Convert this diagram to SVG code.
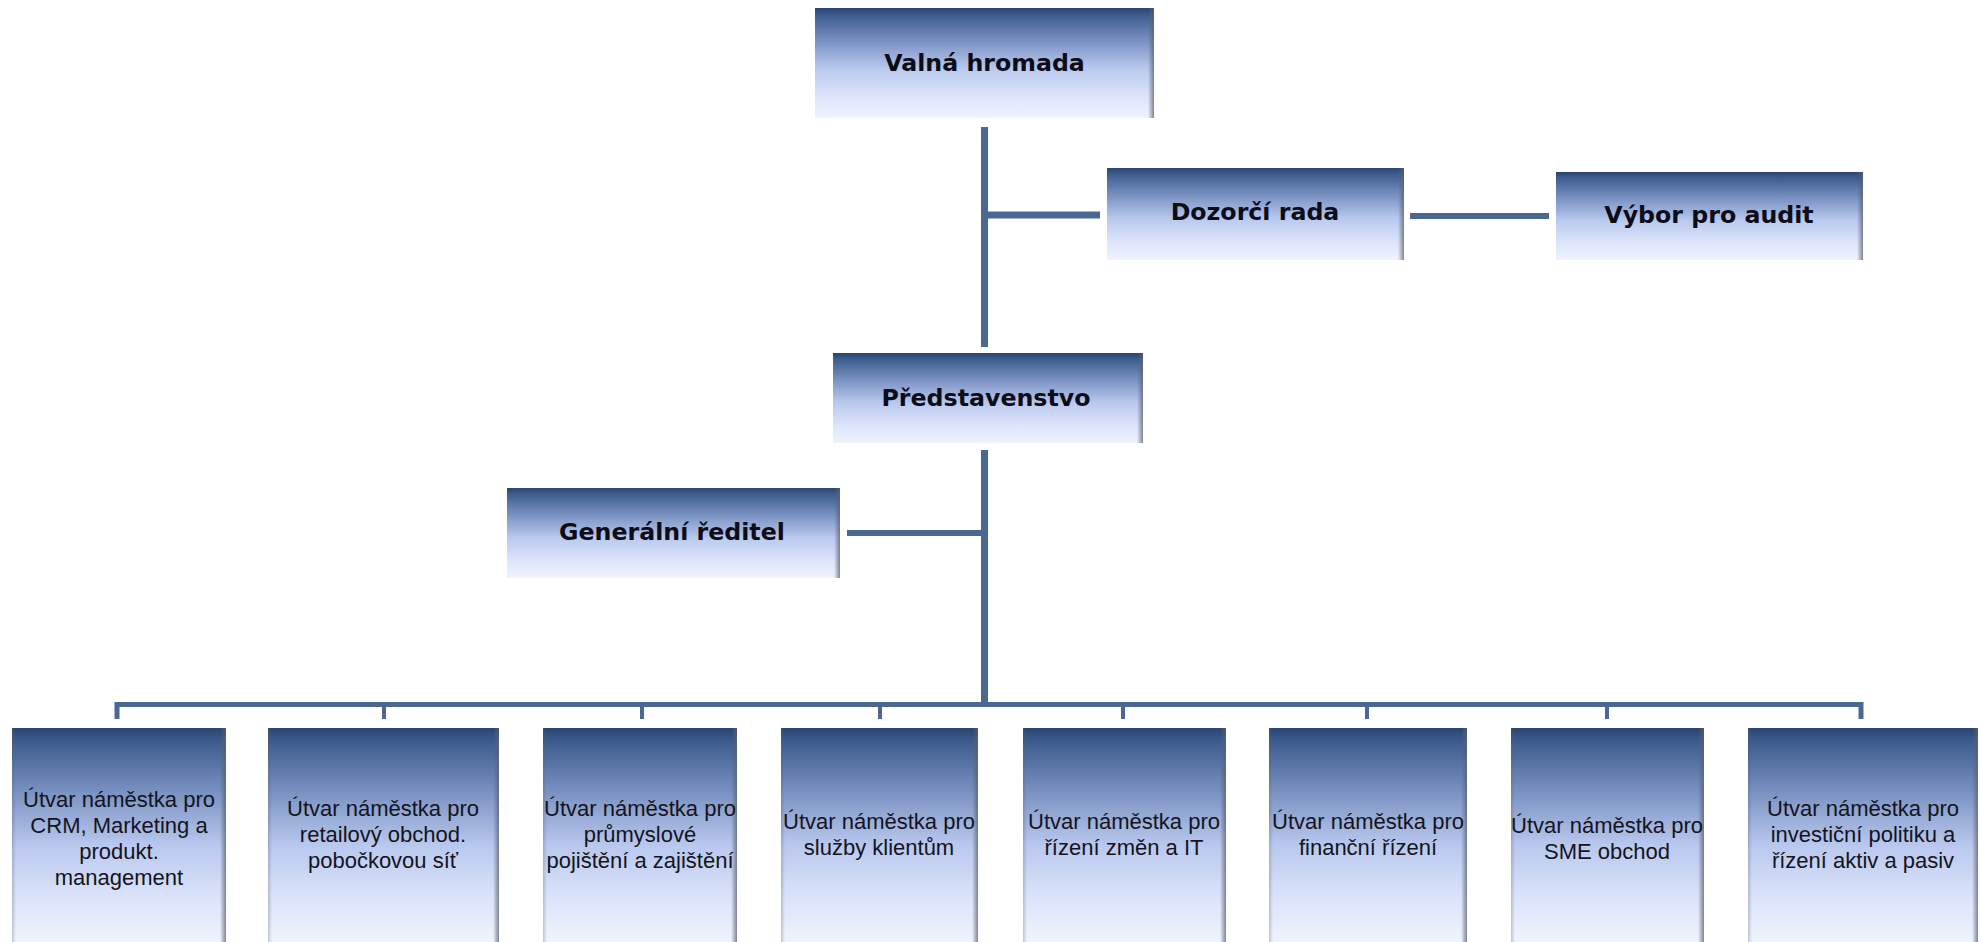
<svg xmlns="http://www.w3.org/2000/svg" width="1981" height="942" viewBox="0 0 1981 942">
<defs>
<linearGradient id="boxg" x1="0" y1="0" x2="0" y2="1">
<stop offset="0" stop-color="#2a4470"/>
<stop offset="0.06" stop-color="#3b5b8c"/>
<stop offset="0.3" stop-color="#7a92c2"/>
<stop offset="0.55" stop-color="#b9c8ee"/>
<stop offset="0.8" stop-color="#dce4fa"/>
<stop offset="1" stop-color="#eff3fd"/>
</linearGradient>
<linearGradient id="shR" x1="0" y1="0" x2="1" y2="0">
<stop offset="0" stop-color="#5a6070" stop-opacity="0"/>
<stop offset="1" stop-color="#5a6070" stop-opacity="0.75"/>
</linearGradient>
<linearGradient id="shL" x1="0" y1="0" x2="1" y2="0">
<stop offset="0" stop-color="#5a6070" stop-opacity="0.3"/>
<stop offset="1" stop-color="#5a6070" stop-opacity="0"/>
</linearGradient>
</defs>
<style>
.box{fill:url(#boxg);}
.shr{fill:url(#shR);}
.shl{fill:url(#shL);}
.t1{font-family:"DejaVu Sans",sans-serif;font-weight:bold;font-size:23.7px;fill:#0d0d18;text-anchor:middle;}
.t2{font-family:"Liberation Sans",Arial,sans-serif;font-size:22px;fill:#141420;text-anchor:middle;}
.c{stroke:#4a6892;fill:none;}
</style>
<rect width="1981" height="942" fill="#ffffff"/>
<g id="connectors">
<line class="c" x1="984.5" y1="127" x2="984.5" y2="347" stroke-width="7"/>
<line class="c" x1="984.5" y1="215" x2="1100" y2="215" stroke-width="7"/>
<line class="c" x1="1410" y1="216" x2="1549" y2="216" stroke-width="6"/>
<line class="c" x1="984.5" y1="450" x2="984.5" y2="704" stroke-width="7"/>
<line class="c" x1="847" y1="533" x2="984.5" y2="533" stroke-width="6"/>
<line class="c" x1="115" y1="704.5" x2="1863" y2="704.5" stroke-width="5"/>
<line class="c" x1="117" y1="702" x2="117" y2="719" stroke-width="5"/>
<line class="c" x1="384" y1="704" x2="384" y2="719" stroke-width="4"/>
<line class="c" x1="642" y1="704" x2="642" y2="719" stroke-width="4"/>
<line class="c" x1="880" y1="704" x2="880" y2="719" stroke-width="4"/>
<line class="c" x1="1123" y1="704" x2="1123" y2="719" stroke-width="4"/>
<line class="c" x1="1367" y1="704" x2="1367" y2="719" stroke-width="4"/>
<line class="c" x1="1607" y1="704" x2="1607" y2="719" stroke-width="4"/>
<line class="c" x1="1861" y1="702" x2="1861" y2="719" stroke-width="5"/>
</g>
<g id="valna-hromada">
<rect class="box" x="815" y="8" width="339" height="110"/>
<rect class="shr" x="1148" y="8" width="6" height="110"/>
<text class="t1" x="984.5" y="71">Valná hromada</text>
</g>
<g id="dozorci-rada">
<rect class="box" x="1107" y="168" width="297" height="92"/>
<rect class="shr" x="1398" y="168" width="6" height="92"/>
<text class="t1" x="1255" y="220">Dozorčí rada</text>
</g>
<g id="vybor-pro-audit">
<rect class="box" x="1556" y="172" width="307" height="88"/>
<rect class="shr" x="1857" y="172" width="6" height="88"/>
<text class="t1" x="1709" y="223">Výbor pro audit</text>
</g>
<g id="predstavenstvo">
<rect class="box" x="833" y="353" width="310" height="90"/>
<rect class="shr" x="1137" y="353" width="6" height="90"/>
<text class="t1" x="986" y="406">Představenstvo</text>
</g>
<g id="generalni-reditel">
<rect class="box" x="507" y="488" width="333" height="90"/>
<rect class="shr" x="834" y="488" width="6" height="90"/>
<text class="t1" x="672" y="540">Generální ředitel</text>
</g>
<g id="utvar-crm">
<rect class="box" x="12" y="728" width="214" height="214"/>
<rect class="shl" x="12" y="728" width="4" height="214"/>
<rect class="shr" x="220" y="728" width="6" height="214"/>
<text class="t2" x="119"><tspan x="119" y="807">Útvar náměstka pro</tspan><tspan x="119" y="833">CRM, Marketing a</tspan><tspan x="119" y="859">produkt.</tspan><tspan x="119" y="885">management</tspan></text>
</g>
<g id="utvar-retail">
<rect class="box" x="268" y="728" width="231" height="214"/>
<rect class="shl" x="268" y="728" width="4" height="214"/>
<rect class="shr" x="493" y="728" width="6" height="214"/>
<text class="t2" x="383"><tspan x="383" y="816">Útvar náměstka pro</tspan><tspan x="383" y="842">retailový obchod.</tspan><tspan x="383" y="868">pobočkovou síť</tspan></text>
</g>
<g id="utvar-pojisteni">
<rect class="box" x="543" y="728" width="194" height="214"/>
<rect class="shl" x="543" y="728" width="4" height="214"/>
<rect class="shr" x="731" y="728" width="6" height="214"/>
<text class="t2" x="640"><tspan x="640" y="816">Útvar náměstka pro</tspan><tspan x="640" y="842">průmyslové</tspan><tspan x="640" y="868">pojištění a zajištění</tspan></text>
</g>
<g id="utvar-sluzby">
<rect class="box" x="781" y="728" width="197" height="214"/>
<rect class="shl" x="781" y="728" width="4" height="214"/>
<rect class="shr" x="972" y="728" width="6" height="214"/>
<text class="t2" x="879"><tspan x="879" y="829">Útvar náměstka pro</tspan><tspan x="879" y="855">služby klientům</tspan></text>
</g>
<g id="utvar-it">
<rect class="box" x="1023" y="728" width="203" height="214"/>
<rect class="shl" x="1023" y="728" width="4" height="214"/>
<rect class="shr" x="1220" y="728" width="6" height="214"/>
<text class="t2" x="1124"><tspan x="1124" y="829">Útvar náměstka pro</tspan><tspan x="1124" y="855">řízení změn a IT</tspan></text>
</g>
<g id="utvar-financni">
<rect class="box" x="1269" y="728" width="198" height="214"/>
<rect class="shl" x="1269" y="728" width="4" height="214"/>
<rect class="shr" x="1461" y="728" width="6" height="214"/>
<text class="t2" x="1368"><tspan x="1368" y="829">Útvar náměstka pro</tspan><tspan x="1368" y="855">finanční řízení</tspan></text>
</g>
<g id="utvar-sme">
<rect class="box" x="1511" y="728" width="193" height="214"/>
<rect class="shl" x="1511" y="728" width="4" height="214"/>
<rect class="shr" x="1698" y="728" width="6" height="214"/>
<text class="t2" x="1607"><tspan x="1607" y="833">Útvar náměstka pro</tspan><tspan x="1607" y="859">SME obchod</tspan></text>
</g>
<g id="utvar-investicni">
<rect class="box" x="1748" y="728" width="230" height="214"/>
<rect class="shl" x="1748" y="728" width="4" height="214"/>
<rect class="shr" x="1972" y="728" width="6" height="214"/>
<text class="t2" x="1863"><tspan x="1863" y="816">Útvar náměstka pro</tspan><tspan x="1863" y="842">investiční politiku a</tspan><tspan x="1863" y="868">řízení aktiv a pasiv</tspan></text>
</g>
</svg>
